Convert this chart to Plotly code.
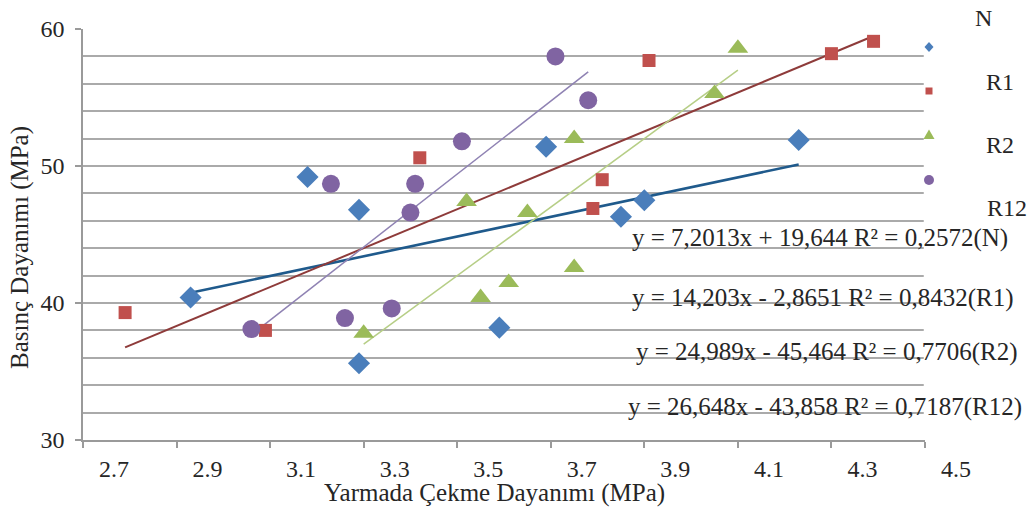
import plotly.graph_objects as go

# ---- data ----
N_x = [2.93, 3.18, 3.29, 3.29, 3.59, 3.69, 3.85, 3.90, 4.23]
N_y = [40.4, 49.2, 46.8, 35.6, 38.2, 51.4, 46.3, 47.5, 51.9]

R1_x = [2.79, 3.09, 3.42, 3.79, 3.81, 3.91, 4.30, 4.39]
R1_y = [39.3, 38.0, 50.6, 46.9, 49.0, 57.7, 58.2, 59.1]

R2_x = [3.30, 3.52, 3.55, 3.61, 3.65, 3.75, 3.75, 4.05, 4.10]
R2_y = [37.8, 47.4, 40.4, 41.5, 46.6, 52.0, 42.6, 55.3, 58.6]

R12_x = [3.06, 3.23, 3.26, 3.36, 3.40, 3.41, 3.51, 3.71, 3.78]
R12_y = [38.1, 48.7, 38.9, 39.6, 46.6, 48.7, 51.8, 58.0, 54.8]

series_names = ["N", "R1", "R2", "R12"]
slopes = [7.2013, 14.203, 24.989, 26.648]
intercepts = [19.644, -2.8651, -45.464, -43.858]
equations = [
    "y = 7,2013x + 19,644 R² = 0,2572(N)",
    "y = 14,203x - 2,8651 R² = 0,8432(R1)",
    "y = 24,989x - 45,464 R² = 0,7706(R2)",
    "y = 26,648x - 43,858 R² = 0,7187(R12)",
]
x_ticks = [2.7, 2.9, 3.1, 3.3, 3.5, 3.7, 3.9, 4.1, 4.3, 4.5]
y_ticks = [30, 40, 50, 60]
x_title = "Yarmada Çekme Dayanımı (MPa)"
y_title = "Basınç Dayanımı (MPa)"

# ---- layout geometry (pixels) ----
W, H = 1034, 509
ML, MT, MB = 83, 29, 69
PLOT_R = 925                      # right edge of the plot area
MR = W - PLOT_R
AREA_W = PLOT_R - ML
AREA_H = H - MT - MB


def px(xp):
    return (xp - ML) / AREA_W


def py(yp):
    return (H - MB - yp) / AREA_H


# ---- styles ----
FONT = "Liberation Serif"
TXT = "#262626"
marker_colors = ["#4A7EBB", "#C0504D", "#9BBB59", "#8064A2"]
marker_symbols = ["diamond", "square", "triangle-up", "circle"]
marker_sizes = [17, 13, 18, 18]
trend_colors = ["#1F5A8C", "#8E3B3A", "#B6CE86", "#8F82B3"]
trend_widths = [2.6, 2.0, 1.5, 1.5]

xs = [N_x, R1_x, R2_x, R12_x]
ys = [N_y, R1_y, R2_y, R12_y]

fig = go.Figure()

# trend lines (from the printed equations, over each series' x span)
for i in range(4):
    x0, x1 = min(xs[i]), max(xs[i])
    fig.add_trace(go.Scatter(
        x=[x0, x1], y=[slopes[i] * x0 + intercepts[i], slopes[i] * x1 + intercepts[i]],
        mode="lines", line=dict(color=trend_colors[i], width=trend_widths[i]),
        showlegend=False, hoverinfo="skip"))

# data markers
for i in range(4):
    fig.add_trace(go.Scatter(
        x=xs[i], y=ys[i], mode="markers", name=series_names[i],
        marker=dict(symbol=marker_symbols[i], size=marker_sizes[i],
                    color=marker_colors[i], line=dict(width=0)),
        showlegend=False))

# keep the right edge of the plot open (no frame line there)
fig.add_shape(type="line", xref="paper", yref="paper", x0=1, x1=1,
              y0=0.004, y1=1.01, line=dict(color="white", width=2.5),
              layer="above")

# manual legend: small symbols just right of the plot (pixel-sized shapes)
leg_marker_px = [(929, 47), (929, 91), (929, 135), (929, 180)]
leg_paths = [
    "M 0,5 L 4.5,0 L 0,-5 L -4.5,0 Z",        # diamond
    "M -3.5,-3.5 L 3.5,-3.5 L 3.5,3.5 L -3.5,3.5 Z",  # square
    "M -5.5,-4 L 5.5,-4 L 0,5.5 Z",            # triangle up
    None,                                       # circle
]
for i in range(4):
    common = dict(xref="paper", yref="paper",
                  xsizemode="pixel", ysizemode="pixel",
                  xanchor=px(leg_marker_px[i][0]), yanchor=py(leg_marker_px[i][1]),
                  fillcolor=marker_colors[i], line=dict(width=0), layer="above")
    if leg_paths[i] is None:
        fig.add_shape(type="circle", x0=-5, x1=5, y0=-5, y1=5, **common)
    else:
        fig.add_shape(type="path", path=leg_paths[i], **common)

leg_text_px = [(983, 18), (1000, 82), (1000, 145), (1007, 208)]
for i in range(4):
    fig.add_annotation(x=px(leg_text_px[i][0]), y=py(leg_text_px[i][1]),
                       xref="paper", yref="paper", text=series_names[i],
                       showarrow=False, xanchor="center", yanchor="middle",
                       font=dict(family=FONT, size=24, color=TXT))

# equation labels
eq_px = [(820, 238), (823, 298), (827, 352), (825, 407)]
for i in range(4):
    fig.add_annotation(x=px(eq_px[i][0]), y=py(eq_px[i][1]),
                       xref="paper", yref="paper", text=equations[i],
                       showarrow=False, xanchor="center", yanchor="middle",
                       font=dict(family=FONT, size=25, color=TXT))

# axis titles (placed as in the reference)
fig.add_annotation(x=px(494), y=py(493), xref="paper", yref="paper",
                   text=x_title, showarrow=False, xanchor="center", yanchor="middle",
                   font=dict(family=FONT, size=25, color=TXT))
fig.add_annotation(x=px(20), y=py(248), xref="paper", yref="paper",
                   text=y_title, textangle=-90, showarrow=False,
                   xanchor="center", yanchor="middle",
                   font=dict(family=FONT, size=25, color=TXT))

fig.update_layout(
    width=W, height=H,
    margin=dict(l=ML, r=MR, t=MT, b=MB),
    paper_bgcolor="white", plot_bgcolor="white",
    font=dict(family=FONT, size=22, color=TXT),
    xaxis=dict(
        range=[2.7, 4.5], tickvals=x_ticks, ticktext=[f"{v:.1f}" for v in x_ticks],
        showgrid=False, zeroline=False, automargin=False, mirror=False,
        minor=dict(showgrid=False, ticks=""),
        showline=True, linecolor="#9a9a9a", linewidth=1.5,
        ticks="outside", ticklen=6, tickcolor="#9a9a9a", tickwidth=1.5,
        ticklabelshift=31,
        tickfont=dict(family=FONT, size=24, color=TXT),
    ),
    yaxis=dict(
        range=[30, 60], tickvals=y_ticks,
        showgrid=True, gridcolor="#aaaaaa", gridwidth=1.5,
        minor=dict(dtick=2, showgrid=True, gridcolor="#aaaaaa", gridwidth=1.5,
                   ticks=""),
        zeroline=False, automargin=False, mirror=False,
        showline=True, linecolor="#9a9a9a", linewidth=1.5,
        ticks="outside", ticklen=6, tickcolor="#9a9a9a", tickwidth=1.5,
        ticklabelstandoff=6,
        tickfont=dict(family=FONT, size=24, color=TXT),
    ),
)

fig.write_html("out.html",
               config={"displayModeBar": False},
               post_script="document.body.style.margin='0';")
